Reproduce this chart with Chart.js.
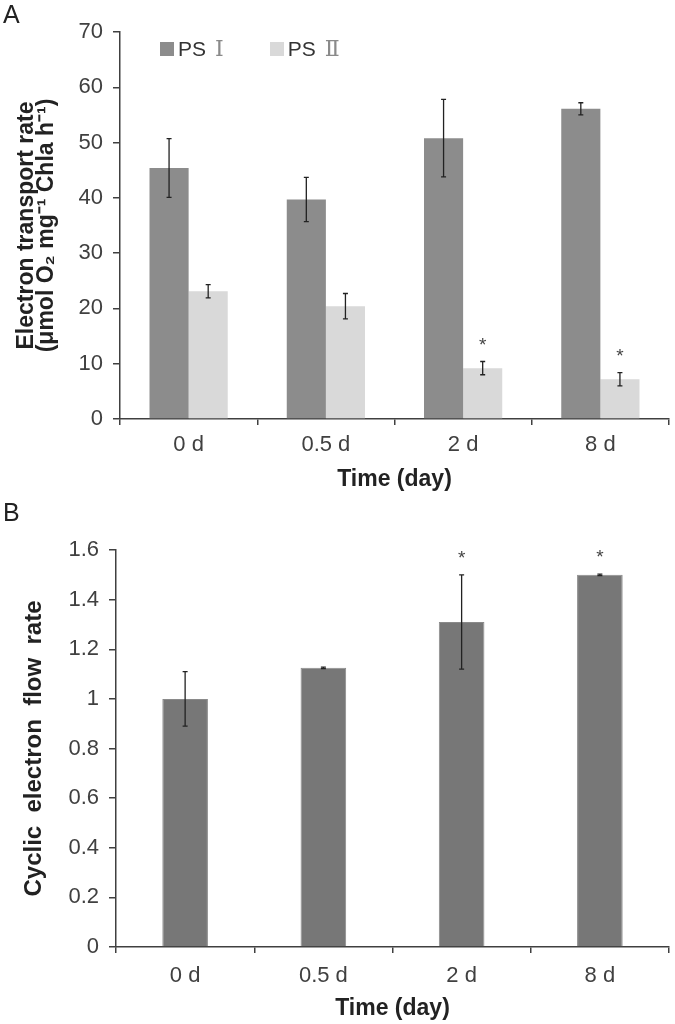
<!DOCTYPE html>
<html>
<head>
<meta charset="utf-8">
<script src="https://cdn.jsdelivr.net/npm/chart.js@4.4.1/dist/chart.umd.min.js"></script>
<style>
  body { margin: 0; background: #fff; width: 675px; height: 1024px; position: relative; overflow: hidden; font-family: "Liberation Sans", Arial, sans-serif; }
  .panel { position: absolute; left: 0; width: 675px; }
  #panelA { top: 0; height: 500px; }
  #panelB { top: 500px; height: 524px; }
  .tag { position: absolute; left: 3px; font-size: 25px; color: #222; }
  #legendA { position: absolute; left: 160px; top: 36px; font-size: 21px; color: #333; display: flex; align-items: center; }
  #legendA .item { display: flex; align-items: center; margin-right: 46px; }
  #legendA .box { width: 14px; height: 14px; margin-right: 4px; }
  #legendA .rn { font-family: "DejaVu Serif", "Liberation Serif", serif; color: #8a8a8a; margin-left: 9px; font-size: 22px; }
</style>
</head>
<body>
<div class="panel" id="panelA"><canvas id="chartA"></canvas></div>
<div class="panel" id="panelB"><canvas id="chartB"></canvas></div>
<div class="tag" style="top:0px">A</div>
<div class="tag" style="top:498px">B</div>
<div id="legendA">
  <div class="item"><div class="box" style="background:#8c8c8c"></div>PS<span class="rn">Ⅰ</span></div>
  <div class="item"><div class="box" style="background:#d9d9d9"></div>PS<span class="rn">Ⅱ</span></div>
</div>
<script>
// Panel A: electron transport rate
const days = ['0 d', '0.5 d', '2 d', '8 d'];
const ps1Rate = [45.4, 39.7, 50.8, 56.1];
const ps1Err = [5.3, 4.0, 7.0, 1.1];
const ps2Rate = [23.1, 20.4, 9.2, 7.2];
const ps2Err = [1.2, 2.3, 1.2, 1.2];
const ps2Stars = [false, false, true, true];

// Panel B: cyclic electron flow rate
const cefRate = [1.0, 1.125, 1.31, 1.5];
const cefErr = [0.11, 0.003, 0.19, 0.003];
const cefStars = [false, false, true, true];

const inkColor = '#404040';
const fontFamily = '"Liberation Sans", Arial, sans-serif';

// draws error bars (and significance stars) from dataset.errors / dataset.stars
const errorBarPlugin = {
    id: 'errorBars',
    afterDatasetsDraw(chart) {
        const ctx = chart.ctx;
        const yScale = chart.scales.y;
        chart.data.datasets.forEach((ds, i) => {
            const meta = chart.getDatasetMeta(i);
            meta.data.forEach((bar, j) => {
                const v = ds.data[j];
                const e = ds.errors ? ds.errors[j] : 0;
                const top = yScale.getPixelForValue(v + e);
                const bot = yScale.getPixelForValue(v - e);
                ctx.save();
                ctx.strokeStyle = '#222';
                ctx.lineWidth = 1.3;
                ctx.beginPath();
                ctx.moveTo(bar.x, top);
                ctx.lineTo(bar.x, bot);
                ctx.moveTo(bar.x - 2.5, top);
                ctx.lineTo(bar.x + 2.5, top);
                ctx.moveTo(bar.x - 2.5, bot);
                ctx.lineTo(bar.x + 2.5, bot);
                ctx.stroke();
                if (ds.stars && ds.stars[j]) {
                    ctx.fillStyle = '#444';
                    ctx.font = '19px ' + fontFamily;
                    ctx.textAlign = 'center';
                    ctx.textBaseline = 'middle';
                    ctx.fillText('*', bar.x, top - 16);
                }
                ctx.restore();
            });
        });
    }
};

function axisOptions(cfg) {
    return {
        x: {
            grid: { display: true, drawOnChartArea: false, drawTicks: true, tickLength: 6, color: inkColor, lineWidth: 1.5 },
            border: { color: inkColor, width: 1.5 },
            ticks: { color: inkColor, font: { size: 22, family: fontFamily }, padding: cfg.xTickPad, maxRotation: 0 },
            title: { display: true, text: 'Time (day)', color: '#222', font: { size: 23, weight: 'bold', family: fontFamily, lineHeight: 1.0 }, padding: { top: 0, bottom: cfg.xTitlePad } },
            afterFit: s => { s.height = cfg.xHeight; }
        },
        y: {
            min: 0,
            max: cfg.max,
            grid: { display: true, drawOnChartArea: false, drawTicks: true, tickLength: 7, color: inkColor, lineWidth: 1.5 },
            border: { color: inkColor, width: 1.5 },
            ticks: { stepSize: cfg.step, color: inkColor, padding: 10, font: { size: 22, family: fontFamily }, callback: v => String(+v.toFixed(1)) },
            title: { display: true, text: cfg.yTitle, color: '#222', font: { size: cfg.yTitleSize, weight: 'bold', family: fontFamily, lineHeight: 0.9 }, padding: { top: cfg.yTitlePad, bottom: 0 } },
            afterFit: s => { s.width = cfg.yWidth; }
        }
    };
}

new Chart(document.getElementById('chartA'), {
    type: 'bar',
    data: {
        labels: days,
        datasets: [
            { label: 'PS Ⅰ', data: ps1Rate, errors: ps1Err, backgroundColor: '#8c8c8c', barPercentage: 1.0, categoryPercentage: 0.57 },
            { label: 'PS Ⅱ', data: ps2Rate, errors: ps2Err, stars: ps2Stars, backgroundColor: '#d9d9d9', barPercentage: 1.0, categoryPercentage: 0.57 }
        ]
    },
    options: {
        responsive: true,
        maintainAspectRatio: false,
        animation: false,
        layout: { padding: { top: 32, right: 6, left: 0, bottom: 0 } },
        plugins: { legend: { display: false }, tooltip: { enabled: false } },
        scales: axisOptions({ max: 70, step: 10, yWidth: 120, xHeight: 81, xTickPad: 7, xTitlePad: 9, yTitlePad: 16, yTitleSize: 23,
            yTitle: ['Electron transport rate', '(μmol O₂ mg⁻¹ Chla h⁻¹)'] })
    },
    plugins: [errorBarPlugin]
});

new Chart(document.getElementById('chartB'), {
    type: 'bar',
    data: {
        labels: days,
        datasets: [
            { label: 'Cyclic electron flow rate', data: cefRate, errors: cefErr, stars: cefStars, backgroundColor: '#777777', borderColor: '#8a8a8a', borderWidth: 1, barPercentage: 1.0, categoryPercentage: 0.33 }
        ]
    },
    options: {
        responsive: true,
        maintainAspectRatio: false,
        animation: false,
        layout: { padding: { top: 50, right: 6, left: 0, bottom: 0 } },
        plugins: { legend: { display: false }, tooltip: { enabled: false } },
        scales: axisOptions({ max: 1.6, step: 0.2, yWidth: 116, xHeight: 77, xTickPad: 10, xTitlePad: 4, yTitlePad: 24, yTitleSize: 24,
            yTitle: 'Cyclic  electron  flow  rate' })
    },
    plugins: [errorBarPlugin]
});
</script>
</body>
</html>
